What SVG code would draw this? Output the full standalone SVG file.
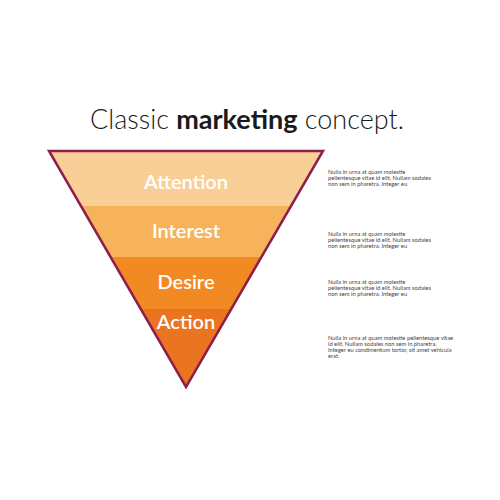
<svg xmlns="http://www.w3.org/2000/svg" width="500" height="500" viewBox="0 0 500 500">
<defs>
<clipPath id="tri"><polygon points="49,151 323,151 186,387"/></clipPath>
<style>
.lbl{font-family:Lato,"Open Sans",sans-serif;font-weight:600;font-size:20px;fill:#fff;text-anchor:middle}
.note{font-family:Lato,"Liberation Sans",sans-serif;font-size:5.8px;fill:#444}
.title{font-family:Lato,"Open Sans",sans-serif;font-weight:300;font-size:27px;fill:#1a1a1a;text-anchor:middle}
</style>
</defs>
<rect width="500" height="500" fill="#fff"/>
<text class="title" x="247" y="129">Classic <tspan font-weight="bold">marketing</tspan> concept.</text>
<g clip-path="url(#tri)">
<g id="attention"><rect x="40" y="151" width="300" height="55" fill="#F9CF98"/></g>
<g id="interest"><rect x="40" y="206" width="300" height="51" fill="#F7B35C"/></g>
<g id="desire"><rect x="40" y="257" width="300" height="52" fill="#F18A22"/></g>
<g id="action"><rect x="40" y="309" width="300" height="80" fill="#EA7420"/></g>
</g>
<polygon points="49,151 323,151 186,387" fill="none" stroke="#8E1F4C" stroke-width="2.5" stroke-linejoin="miter"/>
<text class="lbl" x="186" y="189">Attention</text>
<text class="lbl" x="186" y="238">Interest</text>
<text class="lbl" x="186" y="289">Desire</text>
<text class="lbl" x="186" y="329">Action</text>
<g class="note">
<text class="note" x="328" y="174">Nulla in urna at quam molestie</text>
<text class="note" x="328" y="180">pellentesque vitae id elit. Nullam sodales</text>
<text class="note" x="328" y="186">non sem in pharetra. Integer eu</text>
<text class="note" x="328" y="236">Nulla in urna at quam molestie</text>
<text class="note" x="328" y="242">pellentesque vitae id elit. Nullam sodales</text>
<text class="note" x="328" y="248">non sem in pharetra. Integer eu</text>
<text class="note" x="328" y="284">Nulla in urna at quam molestie</text>
<text class="note" x="328" y="290">pellentesque vitae id elit. Nullam sodales</text>
<text class="note" x="328" y="296">non sem in pharetra. Integer eu</text>
<text class="note" x="328" y="340">Nulla in urna at quam molestie pellentesque vitae</text>
<text class="note" x="328" y="346">id elit. Nullam sodales non sem in pharetra.</text>
<text class="note" x="328" y="352">Integer eu condimentum tortor, sit amet vehicula</text>
<text class="note" x="328" y="358">erat.</text>
</g>
</svg>
